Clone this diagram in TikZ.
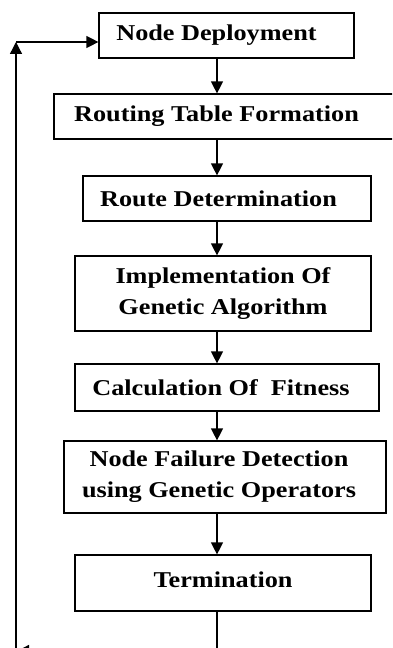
\documentclass[tikz,border=0pt]{standalone}
\usepackage{fontspec}
\setmainfont{Liberation Serif}[FakeStretch=1.16]
\usetikzlibrary{arrows.meta}

\tikzset{
	flowbox/.style={draw, line width=1.2bp, inner sep=0pt, align=center,
		font=\fontsize{22.7}{31}\selectfont\bfseries},
	flowarrow/.style={line width=1.3bp, -{Triangle[length=12bp,width=12bp]}},
	loopline/.style={line width=1.3bp},
}

\begin{document}
\begin{tikzpicture}[x=1bp, y=-1bp]
			%%%%% START %%%%%
			
			\useasboundingbox (0, 0) rectangle (392, 648);
			\clip (0, 0) rectangle (392, 648);
			
			\coordinate (spine) at (217, 0);
			
			\node[flowbox, minimum width=255bp, minimum height=45bp] (deploy) at (226.5, 35.5) {Node Deployment\hspace*{20bp}};
			\node[flowbox, minimum width=340bp, minimum height=45bp] (routing) at (224, 116.5) {Routing Table Formation\hspace*{15bp}};
			\node[flowbox, minimum width=288bp, minimum height=45bp] (route) at (227, 198.5) {Route Determination\hspace*{17bp}};
			\node[flowbox, minimum width=296bp, minimum height=75bp] (genetic) at (223, 293.5) {Implementation Of\\Genetic Algorithm};
			\node[flowbox, minimum width=304bp, minimum height=47bp] (fitness) at (227, 387.5) {Calculation Of~ Fitness\hspace*{12bp}};
			\node[flowbox, minimum width=322bp, minimum height=72bp] (failure) at (225, 477) {Node Failure Detection\hspace*{12bp}\\using Genetic Operators\hspace*{12bp}};
			\node[flowbox, minimum width=296bp, minimum height=56bp] (termination) at (223, 583) {\raisebox{7bp}{Termination}};
			
			\draw[flowarrow] (deploy.south -| spine) -- (routing.north -| spine);
			\draw[flowarrow] (routing.south -| spine) -- (route.north -| spine);
			\draw[flowarrow] (route.south -| spine) -- (genetic.north -| spine);
			\draw[flowarrow] (genetic.south -| spine) -- (fitness.north -| spine);
			\draw[flowarrow] (fitness.south -| spine) -- (failure.north -| spine);
			\draw[flowarrow] (failure.south -| spine) -- (termination.north -| spine);
			
			% loop back to the top
			\coordinate (loopbr) at (217, 651);
			\coordinate (loopbl) at (17, 651);
			\coordinate (looptl) at (16, 42);
			\draw[loopline] (termination.south -| spine) -- (loopbr);
			\draw[flowarrow] (loopbr) -- (loopbl);
			\draw[flowarrow] (16, 651) -- (looptl);
			\draw[flowarrow] (looptl) -- (deploy.west |- looptl);
			
			%%%%% END %%%%%
\end{tikzpicture}
\end{document}
